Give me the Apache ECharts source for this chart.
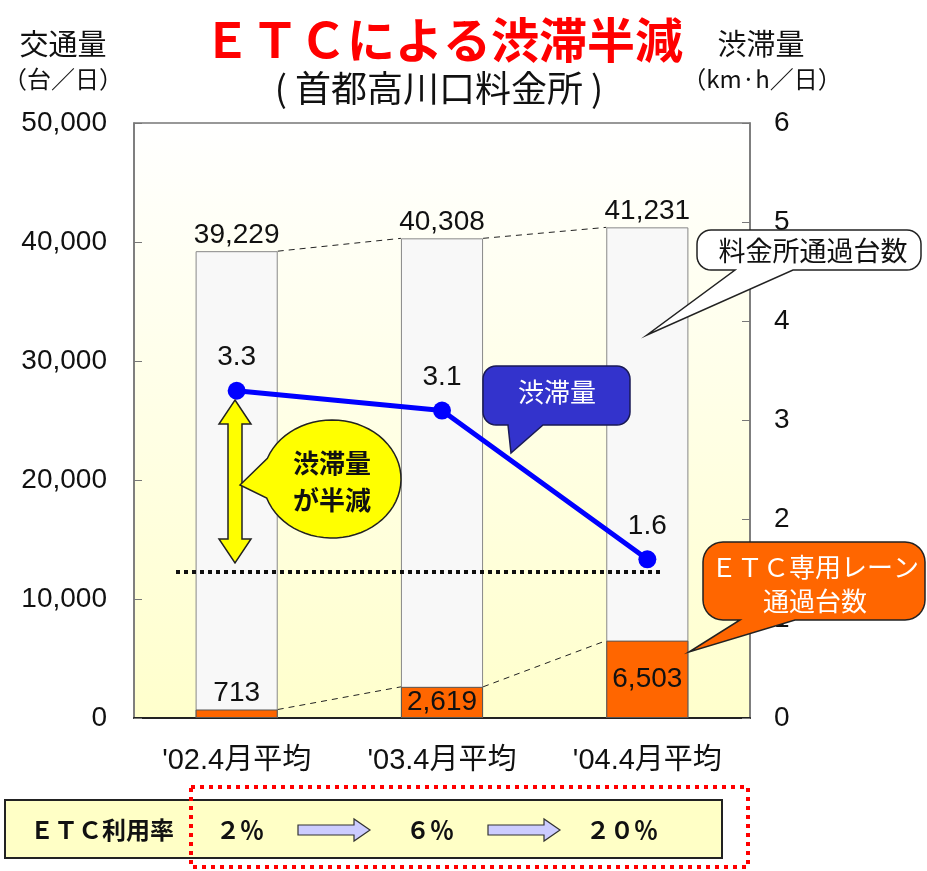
<!DOCTYPE html>
<html>
<head>
<meta charset="utf-8">
<script src="https://cdn.jsdelivr.net/npm/echarts@6/dist/echarts.min.js"></script>
<style>
  html, body { margin: 0; padding: 0; background: #fff; }
  #chart { width: 927px; height: 871px; }
</style>
</head>
<body>
<div id="chart"></div>
<script>
// データ
const categories = ["'02.4月平均", "'03.4月平均", "'04.4月平均"];
const totalTraffic = [39229, 40308, 41231];   // 料金所通過台数
const etcTraffic = [713, 2619, 6503];         // ETC専用レーン通過台数
const congestion = [3.3, 3.1, 1.6];           // 渋滞量 km・h/日
const etcRate = ['２％', '６％', '２０％'];      // ETC利用率
const leftMax = 50000, leftStep = 10000;
const rightMax = 6, rightStep = 1;

const numFont = '"Liberation Sans", Arial, "Noto Sans CJK JP", sans-serif';
const jpFont = '"Noto Sans CJK JP", sans-serif';

const mychart = echarts.init(document.getElementById('chart'));

function fmt(v) {
  return v.toLocaleString('en-US');
}

// 角丸の吹き出し(下向き)
function arcPts(cx, cy, r, a0, a1, n) {
  const pts = [];
  for (let k = 0; k <= n; k++) {
    const a = a0 + (a1 - a0) * k / n;
    pts.push([cx + r * Math.cos(a), cy + r * Math.sin(a)]);
  }
  return pts;
}
function calloutBottom(x, y, w, h, r, b1, b2, tip) {
  let p = [];
  p = p.concat(arcPts(x + r, y + r, r, Math.PI, 1.5 * Math.PI, 8));
  p = p.concat(arcPts(x + w - r, y + r, r, 1.5 * Math.PI, 2 * Math.PI, 8));
  p = p.concat(arcPts(x + w - r, y + h - r, r, 0, 0.5 * Math.PI, 8));
  p.push([b2, y + h], tip, [b1, y + h]);
  p = p.concat(arcPts(x + r, y + h - r, r, 0.5 * Math.PI, Math.PI, 8));
  return p;
}
function ellipseCallout(cx, cy, rx, ry, g1, g2, tip) {
  const p = [];
  const a0 = Math.PI + g1, a1 = 3 * Math.PI - g2, n = 60;
  for (let k = 0; k <= n; k++) {
    const a = a0 + (a1 - a0) * k / n;
    p.push([cx + rx * Math.cos(a), cy + ry * Math.sin(a)]);
  }
  p.push(tip);
  return p;
}
function doubleArrow(cx, y0, y1, hw, sw, hl) {
  return [[cx, y0], [cx + hw, y0 + hl], [cx + sw, y0 + hl], [cx + sw, y1 - hl], [cx + hw, y1 - hl],
          [cx, y1], [cx - hw, y1 - hl], [cx - sw, y1 - hl], [cx - sw, y0 + hl], [cx - hw, y0 + hl]];
}
function rightArrow(x0, x1, cy, hw, sw, hl) {
  return [[x0, cy - sw], [x1 - hl, cy - sw], [x1 - hl, cy - hw], [x1, cy], [x1 - hl, cy + hw],
          [x1 - hl, cy + sw], [x0, cy + sw]];
}

function txt(text, x, y, size, opts) {
  return {
    type: 'text', z: 100,
    style: Object.assign({
      text: text, x: x, y: y, fontSize: size, fontFamily: jpFont,
      fill: '#111', textAlign: 'center', textVerticalAlign: 'middle'
    }, opts || {})
  };
}

// 棒の上端を結ぶ破線
const connectors = [];
for (let i = 0; i < categories.length - 1; i++) {
  connectors.push([i, totalTraffic[i], totalTraffic[i + 1]]);
  connectors.push([i, etcTraffic[i], etcTraffic[i + 1]]);
}

const option = {
  animation: false,
  grid: {
    left: 134, right: 177, top: 123, bottom: 153,
    show: true, borderColor: '#777', borderWidth: 1.5,
    backgroundColor: new echarts.graphic.LinearGradient(0, 0, 0, 1, [
      { offset: 0, color: '#ffffff' },
      { offset: 1, color: '#ffffcc' }
    ])
  },
  xAxis: {
    type: 'category',
    data: categories,
    axisLine: { lineStyle: { color: '#222', width: 2 } },
    axisTick: { inside: true, length: 8, lineStyle: { color: '#777' } },
    axisLabel: { color: '#111', fontSize: 29, fontFamily: numFont, margin: 28 }
  },
  yAxis: [
    {
      type: 'value', min: 0, max: leftMax, interval: leftStep,
      axisLine: { show: true, lineStyle: { color: '#777', width: 1.5 } },
      axisTick: { show: true, inside: true, length: 8, lineStyle: { color: '#777' } },
      splitLine: { show: false },
      axisLabel: { color: '#111', fontSize: 28, fontFamily: numFont, margin: 27, formatter: fmt }
    },
    {
      type: 'value', min: 0, max: rightMax, interval: rightStep, position: 'right',
      axisLine: { show: true, lineStyle: { color: '#777', width: 1.5 } },
      axisTick: { show: true, inside: true, length: 8, lineStyle: { color: '#777' } },
      splitLine: { show: false },
      axisLabel: { color: '#111', fontSize: 28, fontFamily: numFont, margin: 24 }
    }
  ],
  series: [
    {
      name: '料金所通過台数',
      type: 'bar',
      barWidth: '40%',
      z: 2,
      data: totalTraffic,
      itemStyle: { color: '#f8f8f8', borderColor: '#888', borderWidth: 1 },
      label: {
        show: true, position: 'top', distance: 2,
        color: '#111', fontSize: 28, fontFamily: numFont,
        formatter: p => fmt(p.value)
      }
    },
    {
      name: 'ETC専用レーン通過台数',
      type: 'bar',
      barWidth: '40%',
      barGap: '-100%',
      z: 3,
      data: etcTraffic.map((v, i) => ({
        value: v,
        label: { position: i === 0 ? 'top' : 'inside' }
      })),
      itemStyle: { color: '#ff6600', borderColor: '#555', borderWidth: 1 },
      label: {
        show: true, distance: 2,
        color: '#111', fontSize: 28, fontFamily: numFont,
        formatter: p => fmt(p.value)
      }
    },
    {
      type: 'custom',
      z: 4,
      data: connectors,
      renderItem: function (params, api) {
        const i = api.value(0);
        const p0 = api.coord([i, api.value(1)]);
        const p1 = api.coord([i + 1, api.value(2)]);
        const half = api.size([1, 0])[0] * 0.2;
        return {
          type: 'line',
          shape: { x1: p0[0] + half, y1: p0[1], x2: p1[0] - half, y2: p1[1] },
          style: { stroke: '#222', lineWidth: 1, lineDash: [6, 5] }
        };
      }
    },
    {
      name: '渋滞量',
      type: 'line',
      yAxisIndex: 1,
      z: 10,
      data: congestion,
      symbol: 'circle',
      symbolSize: 18,
      itemStyle: { color: '#0000ff' },
      lineStyle: { color: '#0000ff', width: 5 },
      label: {
        show: true, position: 'top', distance: 10,
        color: '#111', fontSize: 28, fontFamily: numFont
      }
    }
  ],
  graphic: [
    // タイトル
    txt('ＥＴＣによる渋滞半減', 443, 40, 48, { fill: '#ff0000', fontWeight: 'bold' }),
    txt('( 首都高川口料金所 )', 439, 88, 36),
    // 軸名
    txt('交通量', 63, 44, 29),
    txt('（台／日）', 63, 79, 24),
    txt('渋滞量', 761, 44, 29),
    txt('（km·h／日）', 762, 79, 24),
    // 半減ライン
    {
      type: 'line', z: 50,
      shape: { x1: 176, y1: 572, x2: 660, y2: 572 },
      style: { stroke: '#111', lineWidth: 4, lineDash: [4, 4] }
    },
    // 両矢印
    {
      type: 'polygon', z: 60,
      shape: { points: doubleArrow(235, 400, 563, 16, 7, 24) },
      style: { fill: '#ffff00', stroke: '#222', lineWidth: 1.5 }
    },
    // 黄色い吹き出し
    {
      type: 'polygon', z: 60,
      shape: { points: ellipseCallout(332, 479, 69, 59, 0.36, 0.33, [240, 485]) },
      style: { fill: '#ffff00', stroke: '#222', lineWidth: 1.5 }
    },
    txt('渋滞量', 332, 463, 26, { fontWeight: 'bold' }),
    txt('が半減', 332, 500, 26, { fontWeight: 'bold' }),
    // 青い吹き出し
    {
      type: 'polygon', z: 60,
      shape: { points: calloutBottom(483, 366, 147, 59, 13, 508, 543, [511, 453]) },
      style: { fill: '#3333cc', stroke: '#1a1a55', lineWidth: 1.5 }
    },
    txt('渋滞量', 557, 392, 26, { fill: '#ffffff' }),
    // 白い吹き出し
    {
      type: 'polygon', z: 60,
      shape: { points: calloutBottom(697, 230, 224, 40, 14, 735, 793, [647, 335]) },
      style: { fill: '#ffffff', stroke: '#222', lineWidth: 1.5 }
    },
    txt('料金所通過台数', 813, 251, 27),
    // オレンジの吹き出し
    {
      type: 'polygon', z: 60,
      shape: { points: calloutBottom(703, 542, 222, 78, 20, 740, 795, [689, 652]) },
      style: { fill: '#ff6600', stroke: '#222', lineWidth: 1.5 }
    },
    txt('ＥＴＣ専用レーン', 815, 567, 26, { fill: '#ffffff' }),
    txt('通過台数', 815, 601, 26, { fill: '#ffffff' }),
    // ETC利用率
    {
      type: 'rect', z: 60,
      shape: { x: 5, y: 800, width: 717, height: 58 },
      style: { fill: '#ffffc6', stroke: '#222', lineWidth: 2 }
    },
    txt('ＥＴＣ利用率', 102, 830, 24, { fontWeight: 'bold' }),
    txt(etcRate[0], 240, 830, 24, { fontWeight: 'bold' }),
    txt(etcRate[1], 430, 830, 24, { fontWeight: 'bold' }),
    txt(etcRate[2], 622, 830, 24, { fontWeight: 'bold' }),
    {
      type: 'polygon', z: 70,
      shape: { points: rightArrow(298, 370, 830, 11, 5, 16) },
      style: { fill: '#ccccff', stroke: '#333', lineWidth: 1.2 }
    },
    {
      type: 'polygon', z: 70,
      shape: { points: rightArrow(488, 560, 830, 11, 5, 16) },
      style: { fill: '#ccccff', stroke: '#333', lineWidth: 1.2 }
    },
    {
      type: 'rect', z: 80,
      shape: { x: 191, y: 787, width: 557, height: 80 },
      style: { fill: null, stroke: '#ff0000', lineWidth: 4, lineDash: [4, 5] }
    }
  ]
};

mychart.setOption(option);

window.addEventListener('resize', function () {
  mychart.resize();
});
</script>
</body>
</html>
